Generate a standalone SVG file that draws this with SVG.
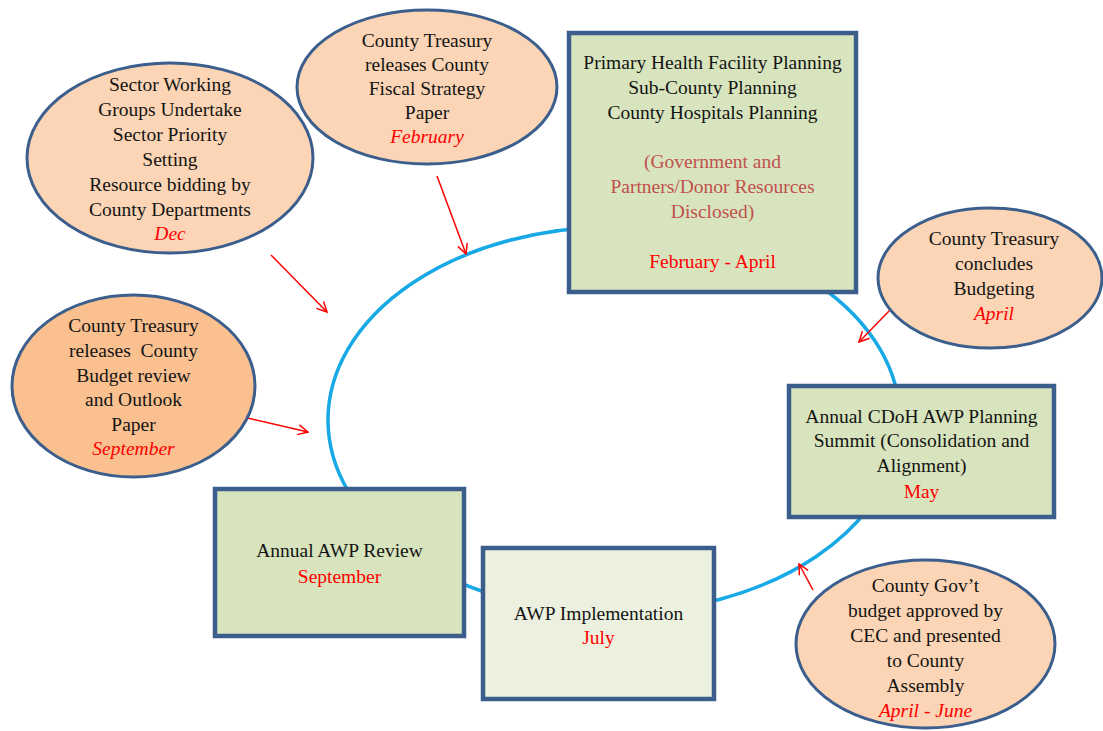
<svg xmlns="http://www.w3.org/2000/svg" width="1103" height="731" viewBox="0 0 1103 731">
  <defs>
    <marker id="openArrow" viewBox="0 0 12 12" refX="11" refY="6" markerWidth="12" markerHeight="12" markerUnits="userSpaceOnUse" orient="auto">
      <path d="M1,1 L11,6 L1,11" fill="none" stroke="#FF0000" stroke-width="1.5"/>
    </marker>
    <style>
      text { font-family: "Liberation Serif", "Times New Roman", serif; font-size: 19.5px; fill: #141414; text-anchor: middle; }
      .month { fill: #FF0000; }
      .it { font-style: italic; }
      .note { fill: #C0504D; }
      .oval { fill: #FBD5B5; stroke: #3B5E8C; stroke-width: 3; }
      .oval-dark { fill: #FAC090; stroke: #3B5E8C; stroke-width: 3; }
      .box { fill: #D7E4BD; stroke: #3B5E8C; stroke-width: 4.5; }
      .box-light { fill: #EBF1DE; stroke: #3B5E8C; stroke-width: 4.5; }
      .cycle { fill: none; stroke: #17A9E6; stroke-width: 3.5; }
      .arrow { stroke: #FF0000; stroke-width: 1.5; fill: none; marker-end: url(#openArrow); }
    </style>
  </defs>

  <rect width="1103" height="731" fill="#FFFFFF"/>

  <!-- planning cycle ring -->
  <ellipse class="cycle" cx="614" cy="420" rx="286" ry="193"/>

  <!-- connectors -->
  <g id="connectors">
    <line class="arrow" x1="271" y1="255" x2="327" y2="312"/>
    <line class="arrow" x1="437" y1="176" x2="466" y2="254"/>
    <line class="arrow" x1="243" y1="417" x2="308" y2="432"/>
    <line class="arrow" x1="890" y1="310" x2="859" y2="342"/>
    <line class="arrow" x1="813" y1="590" x2="799" y2="564"/>
  </g>

  <g id="node-sector-working">
    <ellipse class="oval" cx="170" cy="158" rx="143" ry="95"/>
    <text x="170" y="91">Sector Working</text>
    <text x="170" y="116">Groups Undertake</text>
    <text x="170" y="141">Sector Priority</text>
    <text x="170" y="166">Setting</text>
    <text x="170" y="191">Resource bidding by</text>
    <text x="170" y="216">County Departments</text>
    <text class="month it" x="170" y="240">Dec</text>
  </g>

  <g id="node-fiscal-strategy">
    <ellipse class="oval" cx="427" cy="87" rx="130" ry="77"/>
    <text x="427" y="47">County Treasury</text>
    <text x="427" y="71">releases County</text>
    <text x="427" y="95">Fiscal Strategy</text>
    <text x="427" y="119">Paper</text>
    <text class="month it" x="427" y="143">February</text>
  </g>

  <g id="node-facility-planning">
    <rect class="box" x="569" y="33" width="287" height="259"/>
    <text x="712.5" y="69">Primary Health Facility Planning</text>
    <text x="712.5" y="94">Sub-County Planning</text>
    <text x="712.5" y="119">County Hospitals Planning</text>
    <text class="note" x="712.5" y="168">(Government and</text>
    <text class="note" x="712.5" y="193">Partners/Donor Resources</text>
    <text class="note" x="712.5" y="218">Disclosed)</text>
    <text class="month" x="712.5" y="268">February - April</text>
  </g>

  <g id="node-concludes-budgeting">
    <ellipse class="oval" cx="990" cy="278" rx="112" ry="70"/>
    <text x="994" y="245">County Treasury</text>
    <text x="994" y="270">concludes</text>
    <text x="994" y="295">Budgeting</text>
    <text class="month it" x="994" y="320">April</text>
  </g>

  <g id="node-budget-review-paper">
    <ellipse class="oval-dark" cx="133.5" cy="386" rx="121.5" ry="91"/>
    <text x="133.5" y="332">County Treasury</text>
    <text x="133.5" y="357" xml:space="preserve">releases  County</text>
    <text x="133.5" y="382">Budget review</text>
    <text x="133.5" y="406">and Outlook</text>
    <text x="133.5" y="431">Paper</text>
    <text class="month it" x="133.5" y="455">September</text>
  </g>

  <g id="node-planning-summit">
    <rect class="box" x="789" y="386" width="265" height="131"/>
    <text x="921.5" y="423">Annual CDoH AWP Planning</text>
    <text x="921.5" y="447">Summit (Consolidation and</text>
    <text x="921.5" y="472">Alignment)</text>
    <text class="month" x="921.5" y="498">May</text>
  </g>

  <g id="node-awp-review">
    <rect class="box" x="215" y="489" width="249" height="147"/>
    <text x="339.5" y="557">Annual AWP Review</text>
    <text class="month" x="339.5" y="583">September</text>
  </g>

  <g id="node-awp-implementation">
    <rect class="box-light" x="483" y="548" width="231" height="151"/>
    <text x="598.5" y="620">AWP Implementation</text>
    <text class="month" x="598.5" y="644">July</text>
  </g>

  <g id="node-budget-approval">
    <ellipse class="oval" cx="925.5" cy="644" rx="129.5" ry="84"/>
    <text x="925.5" y="592">County Gov’t</text>
    <text x="925.5" y="617">budget approved by</text>
    <text x="925.5" y="642">CEC and presented</text>
    <text x="925.5" y="667">to County</text>
    <text x="925.5" y="692">Assembly</text>
    <text class="month it" x="925.5" y="717">April - June</text>
  </g>
</svg>
